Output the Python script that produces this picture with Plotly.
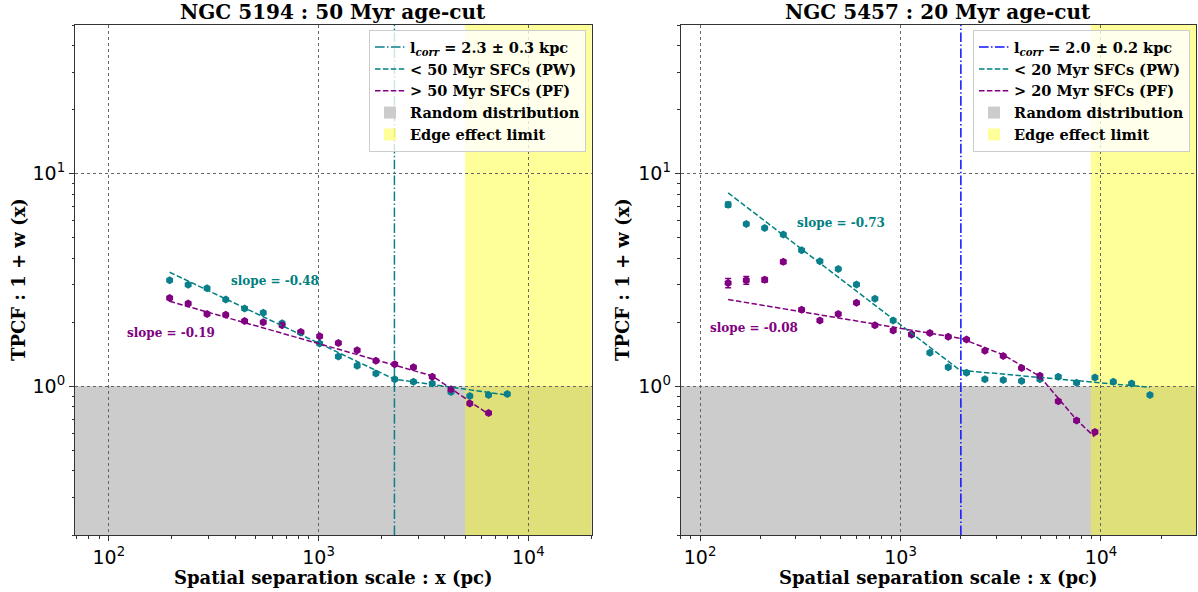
import plotly.graph_objects as go
import numpy as np

# ---------------- data ----------------
# NGC 5194 (left)
left_x = [195, 239, 294, 361, 444, 545, 670, 823, 1012, 1243, 1528, 1877,
          2307, 2835, 3483, 4280, 5260, 6463, 7943]
left_pw_y = [3.15, 3.00, 2.89, 2.56, 2.32, 2.22, 1.98, 1.79, 1.59, 1.38, 1.25, 1.15,
             1.08, 1.05, 1.03, 0.94, 0.90, 0.91, 0.92]
left_pf_x = left_x[:18]
left_pf_y = [2.60, 2.45, 2.19, 2.17, 2.03, 2.00, 1.94, 1.80, 1.72, 1.60, 1.48, 1.32,
             1.27, 1.23, 1.11, 0.97, 0.83, 0.75]
left_pw_fit_x = [195, 2300, 7943]
left_pw_fit_y = [3.44, 1.08, 0.91]
left_pf_fit_x = [195, 3480, 6463]
left_pf_fit_y = [2.51, 1.12, 0.74]
left_lcorr = 2300
left_edge = 5000
left_xlim = [69, 20050]

# NGC 5457 (right)
right_x = [138, 170, 210, 260, 321, 396, 489, 603, 745, 919, 1135, 1401,
           1730, 2135, 2636, 3254, 4018, 4960, 6124, 7559, 9333, 11523, 14223, 17560]
right_pw_y = [7.15, 5.80, 5.55, 5.17, 4.36, 3.87, 3.56, 3.01, 2.58, 2.04, 1.75, 1.44,
              1.23, 1.16, 1.08, 1.07, 1.06, 1.08, 1.11, 1.04, 1.10, 1.05, 1.03, 0.91]
right_pw_err = [0.20, 0.08, 0.06, 0.06, 0.04, 0.03, 0.03, 0.02, 0.02, 0.02, 0.01, 0.01,
                0.01, 0.01, 0.01, 0.01, 0.01, 0.01, 0.01, 0.01, 0.01, 0.01, 0.01, 0.01]
right_pf_x = right_x[:21]
right_pf_y = [3.06, 3.15, 3.17, 3.85, 2.29, 2.04, 2.19, 2.47, 1.94, 1.83, 1.76, 1.78,
              1.71, 1.66, 1.47, 1.39, 1.22, 1.12, 0.85, 0.69, 0.61]
right_pf_err = [0.15, 0.13, 0.08, 0.08, 0.04, 0.03, 0.03, 0.03, 0.02, 0.02, 0.02, 0.02,
                0.01, 0.01, 0.01, 0.01, 0.01, 0.01, 0.01, 0.01, 0.01]
right_pw_fit_x = [138, 1980, 17560]
right_pw_fit_y = [8.12, 1.19, 0.99]
right_pf_fit_x = [138, 2003, 3234, 4925, 7510, 9270]
right_pf_fit_y = [2.56, 1.68, 1.41, 1.12, 0.70, 0.58]
right_lcorr = 2000
right_edge = 8900
right_xlim = [80, 29800]

ylim = [0.2, 50]

x_tick_vals = [100, 1000, 10000]
x_tick_text = ["10<sup>2</sup>", "10<sup>3</sup>", "10<sup>4</sup>"]
y_tick_vals = [1, 10]
y_tick_text = ["10<sup>0</sup>", "10<sup>1</sup>"]

# ---------------- style ----------------
TEAL = "#008080"
DCYAN = "#0b7f8c"
PURPLE = "#800080"
GRAY = "#cccccc"
YELLOW = "rgba(255,255,0,0.4)"
SERIF = "DejaVu Serif"
DASH = "5.5px,2.4px"
DASHDOT = "9.6px,2.4px,1.5px,2.4px"

fig = go.Figure()


def add_panel(xa, ya, leg, xs, pw_y, pw_err, pf_x, pf_y, pf_err,
              pw_fx, pw_fy, pf_fx, pf_fy, lcorr, lcorr_txt, lcorr_col,
              edge, xlim, age):
    fig.add_shape(type="rect", xref=xa + " domain", yref=ya, x0=0, x1=1,
                  y0=ylim[0], y1=1, fillcolor=GRAY, line_width=0, layer="below",
                  showlegend=True, legend=leg, name="<b>Random distribution</b>",
                  legendrank=4)
    fig.add_shape(type="rect", xref=xa, yref=ya + " domain", x0=edge, x1=xlim[1],
                  y0=0, y1=1, fillcolor=YELLOW, line_width=0, layer="below",
                  showlegend=True, legend=leg, name="<b>Edge effect limit</b>",
                  legendrank=5)
    xax = "x" if xa == "x" else "x2"
    yax = "y" if ya == "y" else "y2"
    fig.add_trace(go.Scatter(x=[lcorr, lcorr], y=ylim, mode="lines", xaxis=xax, yaxis=yax,
                             line=dict(color=lcorr_col, width=1.5, dash=DASHDOT),
                             name=lcorr_txt, legend=leg, legendrank=1))
    fig.add_trace(go.Scatter(x=xs, y=pw_y, mode="markers", xaxis=xax, yaxis=yax,
                             marker=dict(symbol="hexagon", size=8, color=DCYAN),
                             error_y=dict(type="data", array=pw_err, color=DCYAN,
                                          thickness=1.5, width=3, visible=pw_err is not None),
                             showlegend=False))
    fig.add_trace(go.Scatter(x=pf_x, y=pf_y, mode="markers", xaxis=xax, yaxis=yax,
                             marker=dict(symbol="hexagon", size=8, color=PURPLE),
                             error_y=dict(type="data", array=pf_err, color=PURPLE,
                                          thickness=1.5, width=3, visible=pf_err is not None),
                             showlegend=False))
    fig.add_trace(go.Scatter(x=pw_fx, y=pw_fy, mode="lines", xaxis=xax, yaxis=yax,
                             line=dict(color=TEAL, width=1.5, dash=DASH),
                             name=f"<b>&lt; {age} Myr SFCs (PW)</b>", legend=leg, legendrank=2))
    fig.add_trace(go.Scatter(x=pf_fx, y=pf_fy, mode="lines", xaxis=xax, yaxis=yax,
                             line=dict(color=PURPLE, width=1.5, dash=DASH),
                             name=f"<b>&gt; {age} Myr SFCs (PF)</b>", legend=leg, legendrank=3))


add_panel("x", "y", "legend", left_x, left_pw_y, None, left_pf_x, left_pf_y, None,
          left_pw_fit_x, left_pw_fit_y, left_pf_fit_x, left_pf_fit_y,
          left_lcorr, "<b>l<sub><i>corr</i></sub> = 2.3 ± 0.3 kpc</b>", DCYAN,
          left_edge, left_xlim, 50)
add_panel("x2", "y2", "legend2", right_x, right_pw_y, right_pw_err, right_pf_x, right_pf_y,
          right_pf_err, right_pw_fit_x, right_pw_fit_y, right_pf_fit_x, right_pf_fit_y,
          right_lcorr, "<b>l<sub><i>corr</i></sub> = 2.0 ± 0.2 kpc</b>", "#1010ff",
          right_edge, right_xlim, 20)

minor_x = [m * 10 ** e for e in range(1, 5) for m in range(2, 10)]
minor_y = [m * 10 ** e for e in range(-1, 2) for m in range(2, 10)]

tickfont = dict(family="DejaVu Sans", size=19, color="black")
common_axis = dict(type="log", showline=True, linecolor="#333", linewidth=1, mirror=True,
                   ticks="outside", ticklen=5, tickcolor="#333", tickfont=tickfont,
                   tickmode="array", showgrid=True, gridcolor="#666",
                   gridwidth=0.8, griddash="dot", zeroline=False)

L_DOM = [0, 0.4609]
R_DOM = [0.5403, 1.0]
xa_common = dict(common_axis, tickvals=x_tick_vals, ticktext=x_tick_text,
                 minor=dict(tickmode="array", tickvals=minor_x, ticks="outside",
                            ticklen=2.5, tickcolor="#333", showgrid=False))
ya_common = dict(common_axis, tickvals=y_tick_vals, ticktext=y_tick_text,
                 minor=dict(tickmode="array", tickvals=minor_y, ticks="outside",
                            ticklen=2.5, tickcolor="#333", showgrid=False))
fig.update_layout(
    xaxis=dict(xa_common, domain=L_DOM, anchor="y",
               range=[np.log10(left_xlim[0]), np.log10(left_xlim[1])]),
    yaxis=dict(ya_common, domain=[0, 1], anchor="x",
               range=[np.log10(ylim[0]), np.log10(ylim[1])]),
    xaxis2=dict(xa_common, domain=R_DOM, anchor="y2",
                range=[np.log10(right_xlim[0]), np.log10(right_xlim[1])]),
    yaxis2=dict(ya_common, domain=[0, 1], anchor="x2",
                range=[np.log10(ylim[0]), np.log10(ylim[1])]),
)

legend_common = dict(bgcolor="rgba(255,255,255,0.8)", bordercolor="#cccccc", borderwidth=1,
                     font=dict(family=SERIF, size=14.5, color="black"),
                     xanchor="right", yanchor="top", itemwidth=30,
                     tracegroupgap=0, traceorder="normal")
fig.update_layout(
    legend=dict(legend_common, x=(586 - 75) / 1121, y=0.99),
    legend2=dict(legend_common, x=(1190 - 75) / 1121, y=0.99),
)

ann = []
for cx, t in [((L_DOM[0] + L_DOM[1]) / 2, "NGC 5194 : 50 Myr age-cut"),
              ((R_DOM[0] + R_DOM[1]) / 2, "NGC 5457 : 20 Myr age-cut")]:
    ann.append(dict(text=f"<b>{t}</b>", xref="paper", yref="paper", x=cx, y=1,
                    xanchor="center", yanchor="bottom", yshift=-1, showarrow=False,
                    font=dict(family=SERIF, size=20, color="black")))
    ann.append(dict(text="<b>Spatial separation scale : x (pc)</b>", xref="paper", yref="paper",
                    x=cx, y=0, xanchor="center", yanchor="top", yshift=-30, showarrow=False,
                    font=dict(family=SERIF, size=18, color="black")))
for px in [(18 - 75) / 1121, (622 - 75) / 1121]:
    ann.append(dict(text="<b>TPCF : 1 + w (x)</b>", xref="paper", yref="paper", x=px, y=0.5,
                    xanchor="center", yanchor="middle", textangle=-90, showarrow=False,
                    font=dict(family=SERIF, size=18, color="black")))
slopes = [("x", "y", 621, 3.12, "slope = -0.48", TEAL),
          ("x", "y", 198, 1.78, "slope = -0.19", PURPLE),
          ("x2", "y2", 504, 5.87, "slope = -0.73", TEAL),
          ("x2", "y2", 185, 1.89, "slope = -0.08", PURPLE)]
for xr, yr, sx, sy, t, c in slopes:
    ann.append(dict(text=f"<b>{t}</b>", xref=xr, yref=yr, x=np.log10(sx), y=np.log10(sy),
                    xanchor="center", yanchor="middle", showarrow=False,
                    font=dict(family=SERIF, size=12, color=c)))

fig.update_layout(
    annotations=ann,
    width=1198, height=592,
    margin=dict(l=75, r=2, t=25, b=57),
    paper_bgcolor="white", plot_bgcolor="white",
)

fig.write_html("out.html")
